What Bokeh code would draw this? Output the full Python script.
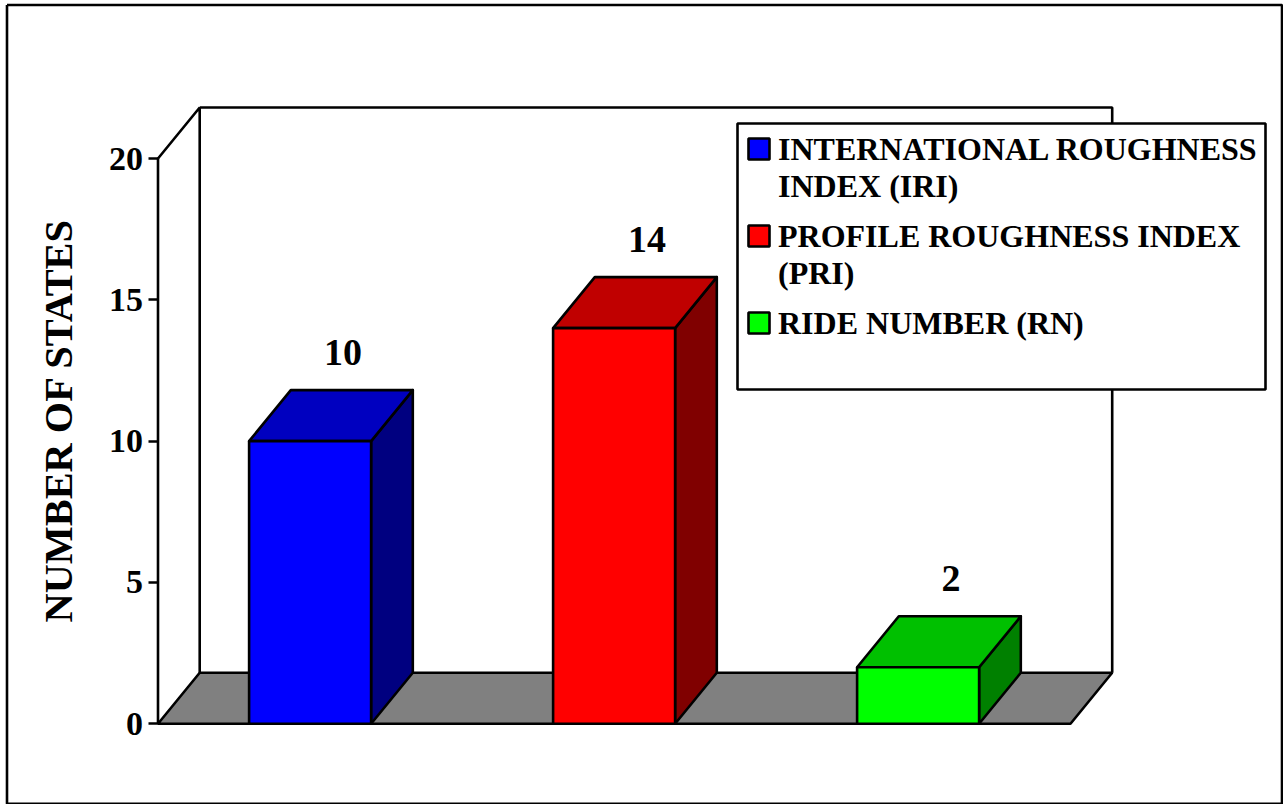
from bokeh.plotting import figure
from bokeh.models import Range1d, LinearAxis, FixedTicker
from bokeh.core.properties import value
from bokeh.embed import file_html
from bokeh.resources import INLINE

categories = ["INTERNATIONAL ROUGHNESS INDEX (IRI)", "PROFILE ROUGHNESS INDEX (PRI)", "RIDE NUMBER (RN)"]
states = [10, 14, 2]
value_labels = ["10", "14", "2"]
legend_lines = [["INTERNATIONAL ROUGHNESS", "INDEX (IRI)"], ["PROFILE ROUGHNESS INDEX", "(PRI)"], ["RIDE NUMBER (RN)"]]
tick_values = [0, 5, 10, 15, 20]
axis_title = "NUMBER OF STATES"

front_colors = ["#0000FF", "#FF0000", "#00FF00"]
top_colors = ["#0000C0", "#C00000", "#00C000"]
side_colors = ["#000080", "#800000", "#008000"]

W, H = 1283, 804
AXIS_X = 157.5
Y0, Y20 = 723.3, 158.0
PX = (Y0 - Y20) / 20
FONT = value("Liberation Serif")
LW = 2.6

def Y(py):
    return (Y0 - py) / PX

p = figure(width=W, height=H, output_backend="svg", toolbar_location=None,
           x_range=Range1d(0, W), y_range=Range1d(Y(H), Y(0)),
           x_axis_location=None, y_axis_location=None,
           min_border_left=0, min_border_right=0, min_border_top=0, min_border_bottom=0,
           outline_line_color=None, background_fill_color="white", border_fill_color="white")
p.grid.visible = False

# outer frame
p.line([6.5, 1281.5, 1281.5, 6.5, 6.5], [Y(4.5), Y(4.5), Y(803.3), Y(803.3), Y(4.5)], line_color="black", line_width=LW)

# the axis title centres on the bounds, so they reach past 20 and the rule is drawn below
axis = LinearAxis(ticker=FixedTicker(ticks=tick_values), bounds=(0, 2 * Y(420)), fixed_location=AXIS_X,
                  axis_line_color=None,
                  major_tick_line_color="black", major_tick_line_width=LW,
                  major_tick_in=0, major_tick_out=10, minor_tick_line_color=None,
                  major_label_text_font="Liberation Serif", major_label_text_font_style="bold",
                  major_label_text_font_size="34px", major_label_text_color="black",
                  major_label_standoff=5,
                  axis_label=axis_title, axis_label_text_font="Liberation Serif",
                  axis_label_text_font_style="bold", axis_label_text_font_size="40.3px",
                  axis_label_text_color="black", axis_label_standoff=26)
p.add_layout(axis, "left")
p.line([AXIS_X, AXIS_X], [0, 20], line_color="black", line_width=LW)

DX, DY = 41.7, 51 / PX
WALL_X0, WALL_X1 = AXIS_X + DX, 1111.7
FLOOR_RIGHT = WALL_X1 - DX

# floor and walls
p.patch([AXIS_X, WALL_X0, WALL_X1, FLOOR_RIGHT], [0, DY, DY, 0], fill_color="#808080", line_color="black", line_width=LW)
p.line([AXIS_X, WALL_X0, WALL_X0], [20, 20 + DY, DY], line_color="black", line_width=LW)
p.line([WALL_X0, WALL_X1, WALL_X1], [20 + DY, 20 + DY, DY], line_color="black", line_width=LW)

# bars
BAR0, STEP, BW = 248.6, 304.0, 122.0
for i, v in enumerate(states):
    l = BAR0 + i * STEP
    r = l + BW
    p.patch([r, r + DX, r + DX, r], [0, DY, v + DY, v], fill_color=side_colors[i], line_color="black", line_width=LW, line_join="round")
    p.patch([l, l + DX, r + DX, r], [v, v + DY, v + DY, v], fill_color=top_colors[i], line_color="black", line_width=LW, line_join="round")
    p.quad(left=[l], right=[r], bottom=[0], top=[v], fill_color=front_colors[i], line_color="black", line_width=LW)
    p.text(x=[l + BW / 2 + 33], y=[v + DY + 24.5 / PX], y_offset=-13.5, text=[value_labels[i]], text_font=FONT, text_font_style="bold",
           text_font_size="38px", text_align="center", text_baseline="alphabetic", text_color="black")

# legend
p.quad(left=[737], right=[1265], bottom=[Y(389)], top=[Y(123)], fill_color="white", line_color="black", line_width=LW)
swatch_tops = [138, 225, 312]
baselines = [[159.3, 196.7], [246, 283], [333]]
for i, lines in enumerate(legend_lines):
    p.quad(left=[748], right=[769], bottom=[Y(swatch_tops[i] + 21)], top=[Y(swatch_tops[i])],
           fill_color=front_colors[i], line_color="black", line_width=LW)
    p.text(x=[777.5] * len(lines), y=[Y(b) for b in baselines[i]], y_offset=-11, text=lines, text_font=FONT, text_font_style="bold",
           text_font_size="32px", text_align="left", text_baseline="alphabetic", text_color="black")

open("out.html", "w").write(file_html(p, INLINE))
